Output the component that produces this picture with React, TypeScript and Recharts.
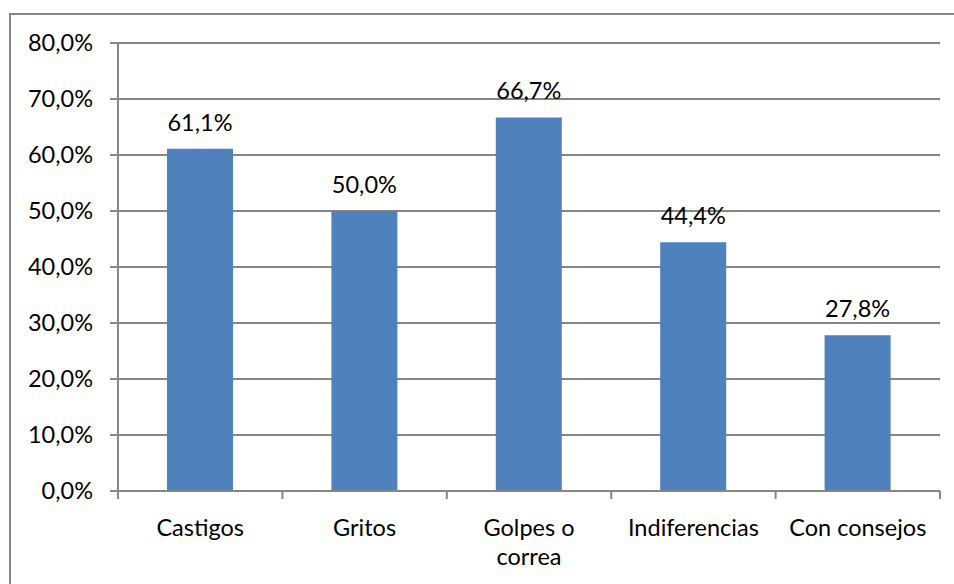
import React from "react";
import { BarChart, Bar, XAxis, YAxis, CartesianGrid, LabelList } from "recharts";

const categories = ["Castigos", "Gritos", "Golpes o\ncorrea", "Indiferencias", "Con consejos"];
const values = [0.611, 0.5, 0.667, 0.444, 0.278];
const yTicks = [0, 0.1, 0.2, 0.3, 0.4, 0.5, 0.6, 0.7, 0.8];

const data = categories.map((name, i) => ({ name, value: values[i] }));

const W = 954;
const H = 584;
const M = { top: 43, right: 14, left: 8, bottom: 33 };
const Y_W = 110;
const X_H = 60;
const FONT = "Lato, 'Open Sans', sans-serif";
const FS = 23.5;
const GRID = "#868686";
const BAND = (W - M.left - Y_W - M.right) / categories.length;

const pct = (v: number) => (v * 100).toFixed(1).replace(".", ",") + "%";

function XTick(props: any) {
  const { x, y, payload, index } = props;
  const lines = String(payload.value).split("\n");
  const left = x - BAND / 2;
  return (
    <g>
      <line x1={left} x2={left} y1={y} y2={y + 8} stroke={GRID} strokeWidth={2} />
      {index === categories.length - 1 && (
        <line x1={left + BAND} x2={left + BAND} y1={y} y2={y + 8} stroke={GRID} strokeWidth={2} />
      )}
      <text x={x} y={y + 45} textAnchor="middle" fill="#000" fontSize={FS} fontFamily={FONT}>
        {lines.map((l, i) => (
          <tspan key={i} x={x} dy={i === 0 ? 0 : 29}>
            {l}
          </tspan>
        ))}
      </text>
    </g>
  );
}

export default function App() {
  return (
    <div style={{ position: "absolute", left: 0, top: 0, width: W, height: H, background: "#fff", overflow: "hidden" }}>
      <div
        style={{
          position: "absolute",
          left: 9,
          top: 13,
          width: W + 20,
          height: H + 20,
          border: `2px solid ${GRID}`,
          boxSizing: "border-box",
        }}
      />
      <div style={{ position: "absolute", left: 0, top: 0 }}>
        <BarChart width={W} height={H} data={data} margin={M} barCategoryGap={0}>
          <CartesianGrid horizontal vertical={false} stroke={GRID} strokeWidth={2} />
          <XAxis
            dataKey="name"
            height={X_H}
            interval={0}
            tickLine={false}
            tickSize={0}
            tickMargin={0}
            axisLine={{ stroke: GRID, strokeWidth: 2 }}
            tick={<XTick />}
          />
          <YAxis
            width={Y_W}
            domain={[0, 0.8]}
            ticks={yTicks}
            tickFormatter={pct}
            tickSize={8}
            tickMargin={17}
            axisLine={{ stroke: GRID, strokeWidth: 2 }}
            tickLine={{ stroke: GRID, strokeWidth: 2 }}
            tick={{ fill: "#000", fontSize: FS, fontFamily: FONT }}
          />
          <Bar dataKey="value" fill="#4F81BD" barSize={66} isAnimationActive={false}>
            <LabelList
              dataKey="value"
              position="top"
              offset={18}
              formatter={(v: any) => pct(Number(v))}
              style={{ fill: "#000", fontSize: FS, fontFamily: FONT }}
            />
          </Bar>
        </BarChart>
      </div>
    </div>
  );
}
